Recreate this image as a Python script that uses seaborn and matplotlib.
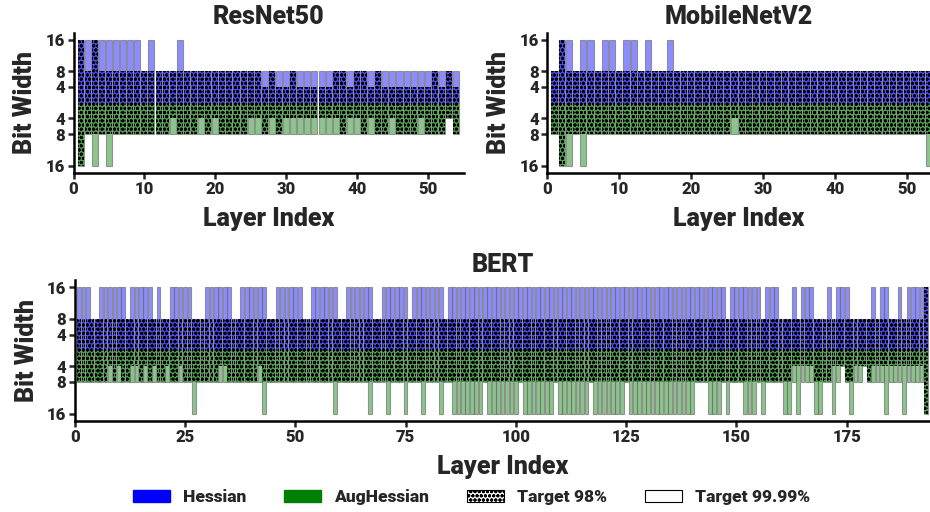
import numpy as np
import pandas as pd
import matplotlib
matplotlib.use("Agg")
import matplotlib.pyplot as plt
import seaborn as sns
from matplotlib.patches import Patch

# ---------------- data (bit widths per layer) ----------------
resnet_layers = list(range(1, 55))
resnet_hess_9999 = [16,16,16,16,16,16,16,16,16,8, 16,8,8,8,16,8,8,8,8,8,
                    8,8,8,8,8,8,8,8,8,8, 8,8,8,8,8,8,8,8,8,8,
                    8,8,8,8,8,8,8,8,8,8, 8,8,8,8]
resnet_hess_98   = [16,8,16,8,8,8,8,8,8,8, 8,8,8,8,8,8,8,8,8,8,
                    8,8,8,8,8,8,4,8,4,4, 8,4,4,4,4,4,8,8,4,8,
                    8,4,8,4,4,4,4,4,4,4, 8,4,8,4]
resnet_aug_9999  = [16,8,16,8,16,8,8,8,8,8, 8,8,8,8,8,8,8,8,8,8,
                    8,8,8,8,8,8,8,8,8,8, 8,8,8,8,8,8,8,8,8,8,
                    8,8,8,8,8,8,8,8,8,8, 8,8,4,8]
resnet_aug_98    = [16,8,8,8,8,8,8,8,8,8, 8,8,8,4,8,8,8,4,8,4,
                    8,8,8,8,4,4,8,4,8,4, 4,4,4,4,4,4,4,8,4,4,
                    8,4,8,8,4,8,8,8,4,8, 8,8,4,8]

mobilenet_layers = list(range(1, 54))
mobilenet_hess_9999 = [8,16,16,8,16,16,8,16,16,8, 16,16,8,16,8,8,16,8,8,8,
                       8,8,8,8,8,8,8,8,8,8, 8,8,8,8,8,8,8,8,8,8,
                       8,8,8,8,8,8,8,8,8,8, 8,8,8]
mobilenet_hess_98   = [8,16,8,8,8,8,8,8,8,8, 8,8,8,8,8,8,8,8,8,8,
                       8,8,8,8,8,8,8,8,8,8, 8,8,8,8,8,8,8,8,8,8,
                       8,8,8,8,8,8,8,8,8,8, 8,8,8]
mobilenet_aug_9999  = [8,16,16,8,16,8,8,8,8,8, 8,8,8,8,8,8,8,8,8,8,
                       8,8,8,8,8,8,8,8,8,8, 8,8,8,8,8,8,8,8,8,8,
                       8,8,8,8,8,8,8,8,8,8, 8,8,16]
mobilenet_aug_98    = [8,16,8,8,8,8,8,8,8,8, 8,8,8,8,8,8,8,8,8,8,
                       8,8,8,8,8,4,8,8,8,8, 8,8,8,8,8,8,8,8,8,8,
                       8,8,8,8,8,8,8,8,8,8, 8,8,8]

# BERT: 193 layers, default 8 bits; spans (first, last) of layers at 16 / 4 bits
bert_n_layers = 193
bert_hess_9999_16 = [(1,3),(6,11),(13,17),(19,19),(22,26),(30,35),(38,43),(46,51),
                     (54,59),(62,67),(70,75),(77,83),(85,147),(149,155),(157,159),
                     (163,163),(165,167),(171,171),(173,175),(181,181),(183,184),
                     (187,187),(189,193)]
bert_hess_98_16   = [(193,193)]
bert_aug_9999_16  = [(27,27),(43,43),(59,59),(67,67),(71,71),(75,75),(79,79),(83,83),
                     (86,92),(94,100),(102,108),(110,116),(118,124),(126,140),
                     (144,146),(148,148),(152,154),(156,156),(161,162),(164,164),
                     (168,169),(172,172),(176,176),(184,184),(188,188),(193,193)]
bert_aug_9999_4   = [(174,174),(179,179)]
bert_aug_98_16    = [(193,193)]
bert_aug_98_4     = [(8,8),(10,10),(13,14),(16,16),(18,18),(21,21),(24,24),(33,34),
                     (42,42),(163,167),(172,174),(177,179),(181,192)]

def bert_series(spans16=(), spans4=()):
    vals = [8] * bert_n_layers
    for a, b in spans16:
        for i in range(a, b + 1):
            vals[i - 1] = 16
    for a, b in spans4:
        for i in range(a, b + 1):
            vals[i - 1] = 4
    return vals

bert_layers = list(range(1, bert_n_layers + 1))
bert_hess_9999 = bert_series(bert_hess_9999_16)
bert_hess_98 = bert_series(bert_hess_98_16)
bert_aug_9999 = bert_series(bert_aug_9999_16, bert_aug_9999_4)
bert_aug_98 = bert_series(bert_aug_98_16, bert_aug_98_4)

# ---------------- style ----------------
sns.set_theme(style="ticks")
plt.rcParams['font.family'] = ['Roboto', 'DejaVu Sans']
plt.rcParams['font.weight'] = 'black'
plt.rcParams['hatch.linewidth'] = 1.0

BLUE = (0.0, 0.0, 1.0)
GREEN = (0.0, 0.5, 0.0)
ALPHA = 0.45
HATCH = 'oooo'
FW = 'black'

W, H = 930, 512
fig = plt.figure(figsize=(W / 100, H / 100), dpi=100)

def add_ax(l, t, r, b):
    return fig.add_axes([l / W, 1 - b / H, (r - l) / W, (b - t) / H])

def draw(ax, layers, h9999, h98, a9999, a98, title, xlim, xticks):
    df = pd.DataFrame({'layer': layers,
                       'h9999': h9999, 'h98': h98,
                       'a9999': [-v for v in a9999], 'a98': [-v for v in a98]})
    common = dict(data=df, x='layer', native_scale=True, width=0.85,
                  errorbar=None, saturation=1, ax=ax)
    specs = [('h9999', BLUE, False), ('a9999', GREEN, False),
             ('h98', BLUE, True), ('a98', GREEN, True)]
    for col, colr, hatched in specs:
        n_before = len(ax.patches)
        sns.barplot(y=col, color=colr, **common)
        for p in ax.patches[n_before:]:
            p.set_facecolor(colr + (ALPHA,))
            if hatched:
                p.set_edgecolor((0, 0, 0, 1))
                p.set_hatch(HATCH)
                p.set_linewidth(0)
            else:
                p.set_edgecolor((0.45, 0.45, 0.45, 0.7))
                p.set_linewidth(0.8)
    ax.set_xlim(*xlim)
    ax.set_ylim(-17.8, 17.8)
    ax.set_yticks([-16, -8, -4, 4, 8, 16])
    ax.set_yticklabels(['16', '8', '4', '4', '8', '16'])
    ax.set_xticks(xticks)
    ax.set_xticklabels([str(t) for t in xticks])
    ax.set_title(title, fontsize=18, fontweight=FW, pad=6)
    ax.set_xlabel('Layer Index', fontsize=18, fontweight=FW, labelpad=7)
    ax.set_ylabel('Bit Width', fontsize=18, fontweight=FW, labelpad=6)
    ax.tick_params(axis='both', labelsize=12, width=1.8, length=4, pad=2)
    for lab in ax.get_xticklabels() + ax.get_yticklabels():
        lab.set_fontweight(FW)
    sns.despine(ax=ax)
    for s in ('left', 'bottom'):
        ax.spines[s].set_linewidth(1.8)
        ax.spines[s].set_color('black')

ax1 = add_ax(73.5, 32.7, 464, 172.7)
ax2 = add_ax(547.3, 32.7, 930, 172.7)
ax3 = add_ax(74.7, 280, 930, 420.7)

draw(ax1, resnet_layers, resnet_hess_9999, resnet_hess_98, resnet_aug_9999, resnet_aug_98,
     'ResNet50', (0, 55.1), [0, 10, 20, 30, 40, 50])
draw(ax2, mobilenet_layers, mobilenet_hess_9999, mobilenet_hess_98, mobilenet_aug_9999,
     mobilenet_aug_98, 'MobileNetV2', (0, 53.15), [0, 10, 20, 30, 40, 50])
draw(ax3, bert_layers, bert_hess_9999, bert_hess_98, bert_aug_9999, bert_aug_98,
     'BERT', (0, 193.9), [0, 25, 50, 75, 100, 125, 150, 175])

handles = [Patch(facecolor=BLUE, edgecolor=BLUE),
           Patch(facecolor=GREEN, edgecolor=GREEN),
           Patch(facecolor='white', edgecolor='black', hatch=HATCH, linewidth=0.8),
           Patch(facecolor='white', edgecolor='black', linewidth=0.8)]
labels = ['Hessian', 'AugHessian', 'Target 98%', 'Target 99.99%']
fig.legend(handles, labels, loc='center', bbox_to_anchor=(0.507, 1 - 497 / H), ncol=4,
           frameon=False, handlelength=2.13, handleheight=0.75,
           handletextpad=0.75, columnspacing=2.2, prop={'weight': FW, 'size': 12.5})

fig.savefig('out.png', dpi=100)
